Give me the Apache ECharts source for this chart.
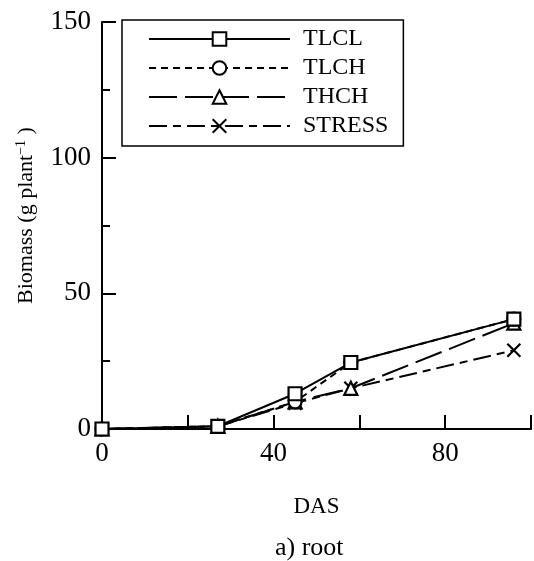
<!DOCTYPE html>
<html>
<head>
<meta charset="utf-8">
<script src="https://cdn.jsdelivr.net/npm/echarts@6/dist/echarts.min.js"></script>
<style>html,body{margin:0;padding:0;background:#fff}#c{width:534px;height:561px}</style>
</head>
<body>
<div id="c"></div>
<script>
const das = [0, 27, 45, 58, 96];
const tlcl = [0, 1, 13, 24.5, 40.5];
const tlch = [0, 1, 10, 24.5, 40.5];
const thch = [0, 1, 10, 15, 39];
const stress = [0, 1, 9.5, 15, 29];
const xTicks = [0, 40, 80];
const yTicks = [0, 50, 100, 150];

const font = 'Liberation Serif';
const pair = arr => das.map((d, i) => [d, arr[i]]);
const mk = (name, data, symbol, dash) => ({
  name, type: 'line', data: pair(data), symbol, symbolSize: 13,
  lineStyle: {color: '#000', width: 2, type: dash},
  itemStyle: {color: '#fff', borderColor: '#000', borderWidth: 2.2},
  emphasis: {disabled: true}, animation: false
});
const chart = echarts.init(document.getElementById('c'));
chart.setOption({
  animation: false,
  title: {text: 'a) root', left: 270, top: 530,
    textStyle: {fontFamily: font, fontSize: 26, fontWeight: 'normal', color: '#000'}},
  grid: {left: 102, right: 0, top: 22, bottom: 132},
  legend: {
    left: 122, top: 20, orient: 'vertical', itemWidth: 141, itemHeight: 17, itemGap: 5,
    padding: [7, 15, 8, 26], borderColor: '#000', borderWidth: 1.5,
    itemStyle: {borderWidth: 2},
    lineStyle: {width: 2},
    textStyle: {fontFamily: font, fontSize: 24, color: '#000', padding: [0, 0, 0, 8]},
    data: ['TLCL', 'TLCH', 'THCH', 'STRESS']
  },
  xAxis: {
    type: 'value', min: 0, max: 100, interval: 20,
    name: 'DAS', nameLocation: 'middle', nameGap: 66,
    nameTextStyle: {fontFamily: font, fontSize: 23, color: '#000'},
    axisLine: {onZero: false, lineStyle: {color: '#000', width: 2}},
    axisTick: {inside: true, length: 14, lineStyle: {color: '#000', width: 2}},
    axisLabel: {fontFamily: font, fontSize: 27, color: '#000', margin: 11,
      formatter: v => xTicks.includes(v) ? String(v) : ''},
    splitLine: {show: false}
  },
  yAxis: {
    type: 'value', min: 0, max: 150, interval: 50,
    name: '{a|Biomass (g plant}{s|−1}{a| )}', nameLocation: 'middle', nameGap: 64,
    nameTextStyle: {fontFamily: font, fontSize: 22, color: '#000', padding: [0, 0, 0, 20],
      rich: {a: {fontFamily: font, fontSize: 22, color: '#000'},
             s: {fontFamily: font, fontSize: 14, color: '#000', verticalAlign: 'top', padding: [0, 0, 10, 0]}}},
    axisLine: {lineStyle: {color: '#000', width: 2}},
    axisTick: {inside: true, length: 14, lineStyle: {color: '#000', width: 2}},
    minorTick: {show: true, splitNumber: 2, length: 8, lineStyle: {color: '#000', width: 2}},
    axisLabel: {fontFamily: font, fontSize: 27, color: '#000', margin: 11,
      formatter: v => yTicks.includes(v) ? String(v) : ''},
    splitLine: {show: false}, minorSplitLine: {show: false}
  },
  series: [
    mk('STRESS', stress, 'path://M0,0L10,10M10,0L0,10', [18, 6, 8, 6]),
    mk('THCH', thch, 'triangle', [28, 8]),
    mk('TLCH', tlch, 'circle', [7, 5]),
    mk('TLCL', tlcl, 'rect', 'solid')
  ]
});
</script>
</body>
</html>
